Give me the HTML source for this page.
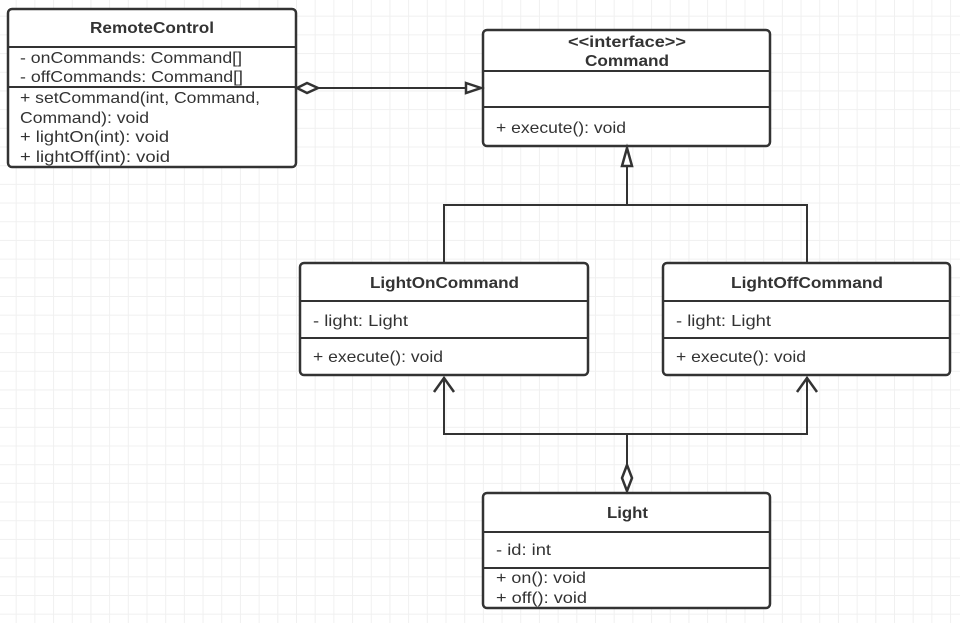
<!DOCTYPE html>
<html><head><meta charset="utf-8"><style>
body{margin:0;width:960px;height:623px;overflow:hidden;background:#fff;
background-image:linear-gradient(#f0f0f0 1px,transparent 1px),linear-gradient(90deg,#f0f0f0 1px,transparent 1px);
background-size:18.7px 18.7px;background-position:-3px -3px;}
svg{position:absolute;left:0;top:0}
text{font-family:"Liberation Sans","Noto Sans CJK SC",sans-serif;font-size:16px;fill:#333}
.b{font-weight:bold}
</style></head><body>
<svg width="960" height="623" viewBox="0 0 960 623">
<g fill="#fff" stroke="#333" stroke-width="2.5">
<rect x="8" y="9" width="288" height="158" rx="4"/>
<rect x="483" y="30" width="287" height="116" rx="4"/>
<rect x="300" y="263" width="288" height="112" rx="4"/>
<rect x="663" y="263" width="287" height="112" rx="4"/>
<rect x="483" y="493" width="287" height="115" rx="4"/>
</g>
<g stroke="#333" stroke-width="2" fill="none">
<path d="M8 47H296M8 87H296"/>
<path d="M483 71H770M483 107H770"/>
<path d="M300 301H588M300 338H588"/>
<path d="M663 301H950M663 338H950"/>
<path d="M483 532H770M483 568H770"/>
<path d="M318 88H466"/>
<path d="M627 166V205M444 263V205H807V263"/>
<path d="M444 377V434H807V377M627 434V465"/>
<path d="M434 392L444 378L454 392M797 392L807 378L817 392" stroke-width="2.5"/>
</g>
<g stroke="#333" stroke-width="2.5" fill="#fff">
<path d="M297 88L307 83L318 88L307 93Z"/>
<path d="M466 83L481 88L466 93Z"/>
<path d="M627 148L632 166L622 166Z"/>
<path d="M627 465L632 478L627 491L622 478Z"/>
</g>
<text class="b" x="90" y="33" textLength="124" lengthAdjust="spacingAndGlyphs">RemoteControl</text>
<text x="20" y="63" textLength="222" lengthAdjust="spacingAndGlyphs">- onCommands: Command[]</text>
<text x="20" y="82" textLength="223" lengthAdjust="spacingAndGlyphs">- offCommands: Command[]</text>
<text x="20" y="103" textLength="240" lengthAdjust="spacingAndGlyphs">+ setCommand(int, Command,</text>
<text x="20" y="123" textLength="129" lengthAdjust="spacingAndGlyphs">Command): void</text>
<text x="20" y="142" textLength="149" lengthAdjust="spacingAndGlyphs">+ lightOn(int): void</text>
<text x="20" y="162" textLength="150" lengthAdjust="spacingAndGlyphs">+ lightOff(int): void</text>
<text class="b" x="568" y="47" textLength="118" lengthAdjust="spacingAndGlyphs">&lt;&lt;interface&gt;&gt;</text>
<text class="b" x="585" y="66" textLength="84" lengthAdjust="spacingAndGlyphs">Command</text>
<text x="496" y="133" textLength="130" lengthAdjust="spacingAndGlyphs">+ execute(): void</text>
<text class="b" x="370" y="288" textLength="149" lengthAdjust="spacingAndGlyphs">LightOnCommand</text>
<text x="313" y="326" textLength="95" lengthAdjust="spacingAndGlyphs">- light: Light</text>
<text x="313" y="362" textLength="130" lengthAdjust="spacingAndGlyphs">+ execute(): void</text>
<text class="b" x="731" y="288" textLength="152" lengthAdjust="spacingAndGlyphs">LightOffCommand</text>
<text x="676" y="326" textLength="95" lengthAdjust="spacingAndGlyphs">- light: Light</text>
<text x="676" y="362" textLength="130" lengthAdjust="spacingAndGlyphs">+ execute(): void</text>
<text class="b" x="607" y="518" textLength="41" lengthAdjust="spacingAndGlyphs">Light</text>
<text x="496" y="555" textLength="55" lengthAdjust="spacingAndGlyphs">- id: int</text>
<text x="496" y="583" textLength="90" lengthAdjust="spacingAndGlyphs">+ on(): void</text>
<text x="496" y="603" textLength="91" lengthAdjust="spacingAndGlyphs">+ off(): void</text>
</svg>
</body></html>
